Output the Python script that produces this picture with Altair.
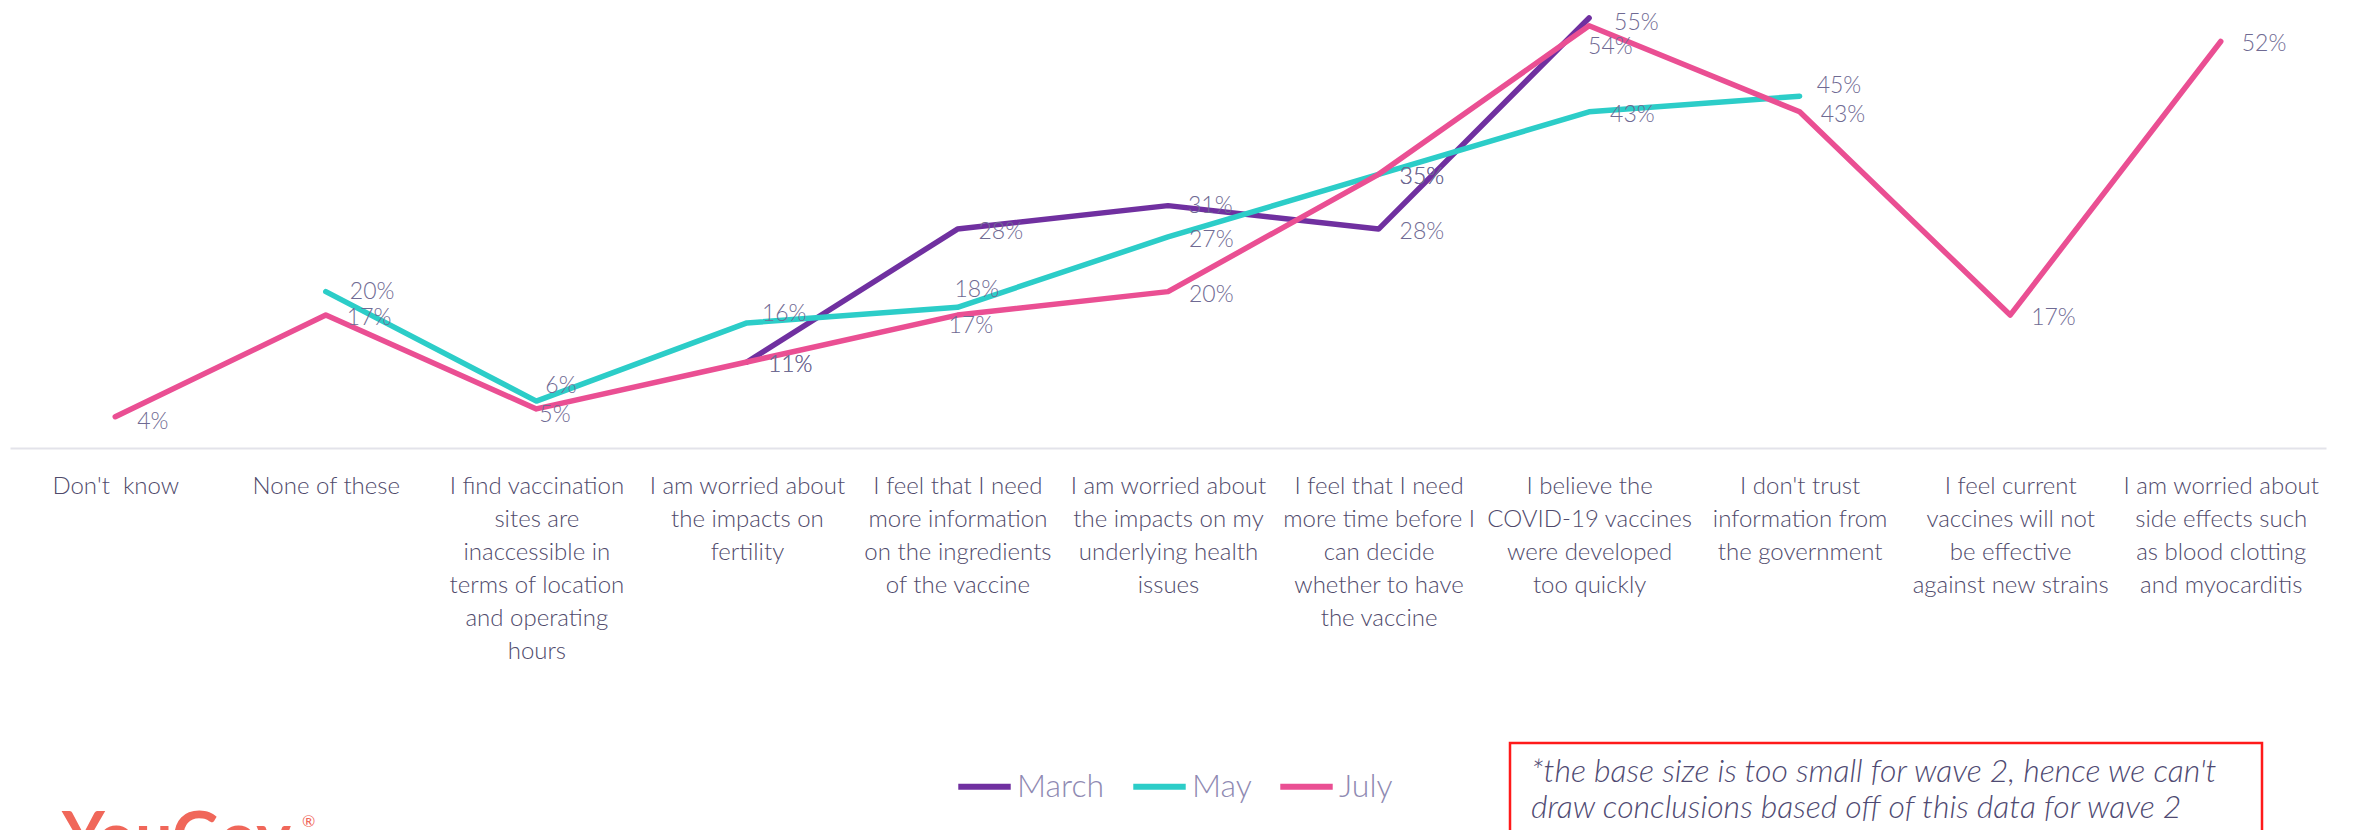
import altair as alt
import pandas as pd

# ---------------- data ----------------
CATEGORY_LINES = [
    ["Don't\u00a0 know"],
    ["None of these"],
    ["I find vaccination", "sites are", "inaccessible in", "terms of location", "and operating", "hours"],
    ["I am worried about", "the impacts on", "fertility"],
    ["I feel that I need", "more information", "on the ingredients", "of the vaccine"],
    ["I am worried about", "the impacts on my", "underlying health", "issues"],
    ["I feel that I need", "more time before I", "can decide", "whether to have", "the vaccine"],
    ["I believe the", "COVID-19 vaccines", "were developed", "too quickly"],
    ["I don't trust", "information from", "the government"],
    ["I feel current", "vaccines will not", "be effective", "against new strains"],
    ["I am worried about", "side effects such", "as blood clotting", "and myocarditis"],
]
SERIES = ["March", "May", "July"]
MARCH = [None, None, None, 11, 28, 31, 28, 55, None, None, None]
MAY = [None, 20, 6, 16, 18, 27, 35, 43, 45, None, None]
JULY = [4, 17, 5, 11, 17, 20, 35, 54, 43, 17, 52]

NOTE = "*the base size is too small for wave 2, hence we can't\ndraw conclusions based off of this data for wave 2"

# ---------------- style ----------------
COLORS = ["#7030a0", "#2ccdc8", "#ea4f93"]
LABEL_DEFAULT = (21, 3)          # pixel nudge of value labels (dx, dy)
LABEL_NUDGE = {
    ("July", 0): (22, 5),
    ("May", 1): (24, 0),
    ("May", 2): (9, -15),
    ("July", 2): (3, 6),
    ("May", 3): (15, -9),
    ("May", 4): (-3, -17),
    ("July", 4): (-9, 11),
    ("March", 5): (20, 0),
    ("March", 7): (25, 5),
    ("July", 7): (-1, 21),
    ("May", 8): (17, -10),
}
W, H = 2316, 440
YMAX = 56.28
PX_PER_UNIT = H / YMAX
FONT = "Lato"

cats = ["\n".join(l) for l in CATEGORY_LINES]
rows = []
for s, vals in zip(SERIES, [MARCH, MAY, JULY]):
    for i, v in enumerate(vals):
        if v is None:
            continue
        dx, dy = LABEL_NUDGE.get((s, i), LABEL_DEFAULT)
        rows.append({"series": s, "category": cats[i], "order": i, "value": v,
                     "label": f"{v}%", "ldx": dx, "ldy": dy})
df = pd.DataFrame(rows)

x_enc = alt.X(
    "category:N", sort=cats,
    scale=alt.Scale(type="point", padding=0.5),
    axis=alt.Axis(
        title=None, labelAngle=0, ticks=False, grid=False,
        labelExpr="split(datum.label, '\\n')",
        labelFont=FONT, labelFontSize=24, labelFontWeight=300, labelLineHeight=33,
        labelColor="#4f4a6b",
        labelPadding=26, labelLimit=500, labelOverlap=False, labelBound=False,
        domainColor="#e3e3ea", domainWidth=2,
    ),
)
yscale = alt.Scale(domain=[0, YMAX], nice=False, zero=True)

base = alt.Chart(df)

lines = base.mark_line(strokeWidth=5.5, strokeJoin="round", strokeCap="round").encode(
    x=x_enc, y=alt.Y("value:Q", scale=yscale, axis=None),
    color=alt.Color(
        "series:N",
        scale=alt.Scale(domain=SERIES, range=COLORS),
        legend=alt.Legend(
            title=None, orient="none", legendX=945, legendY=749, direction="horizontal",
            symbolType="stroke", symbolSize=2750, symbolStrokeWidth=6,
            labelFont=FONT, labelFontSize=32, labelFontWeight=300, labelColor="#8f8ab2",
            labelOffset=3, columnPadding=16, padding=0,
        ),
    ),
    order=alt.Order("order:Q"),
)

labels = base.transform_calculate(
    label_y=f"datum.value - datum.ldy / {PX_PER_UNIT}"
).mark_text(align="left", baseline="middle", font=FONT, fontSize=23, fontWeight=300,
            color="#6f6a93").encode(
    x=x_enc, y=alt.Y("label_y:Q", scale=yscale, axis=None), text="label:N",
    xOffset=alt.XOffset("ldx:Q", scale=None),
)

dummy = alt.Chart(pd.DataFrame({"a": [0]}))
box = dummy.mark_rect(fill="transparent", stroke="#ff1a1a", strokeWidth=2.5).encode(
    x=alt.value(1500), x2=alt.value(2252), y=alt.value(735), y2=alt.value(930)
)
note = dummy.mark_text(align="left", baseline="alphabetic", font=FONT, fontStyle="italic",
                       fontSize=32, fontWeight=300, color="#4f4a72", lineBreak="\n",
                       lineHeight=36).encode(
    x=alt.value(1521), y=alt.value(774), text=alt.value(NOTE)
)
logo = dummy.mark_text(align="left", baseline="alphabetic", font=FONT, fontWeight="bold",
                       fontSize=66, color="#f0675a").encode(
    x=alt.value(52), y=alt.value(852), text=alt.value("YouGov")
)
reg = dummy.mark_text(align="left", baseline="alphabetic", font=FONT, fontSize=16,
                      color="#f0675a").encode(
    x=alt.value(292), y=alt.value(819), text=alt.value("®")
)

chart = alt.layer(lines, labels, box, note, logo, reg).properties(
    width=W, height=H,
    padding={"left": 2, "top": 0, "right": 10, "bottom": 0},
    background="white",
).configure_view(stroke=None)

chart.save("out.html", embed_options={"renderer": "svg", "actions": False})
